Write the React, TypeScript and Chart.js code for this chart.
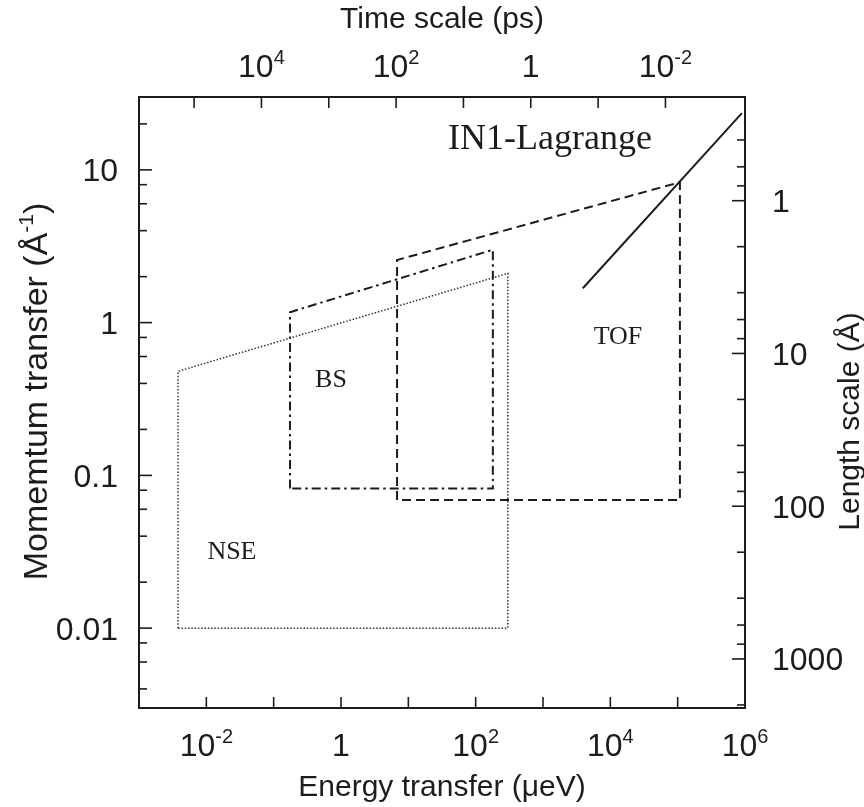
import React, { useEffect, useRef } from 'react';
import { Chart, registerables } from 'chart.js';

Chart.register(...registerables);

// ---------- constants ----------
const HBAR = 658.2; // µeV·ps  (t = ħ / E)
const TWO_PI = 2 * Math.PI; // Å (L = 2π / Q)

// ---------- axis ranges ----------
const energyMin = 1e-3;
const energyMax = 1e6;
const momentumMin = 0.003;
const momentumMax = 30;

// ---------- data (energy in µeV, momentum in Å^-1) ----------
const nseEnergy = [0.0038, 0.0038, 300, 300, 0.0038];
const nseQ = [0.01, 0.48, 2.1, 0.01, 0.01];

const bsEnergy = [0.175, 0.175, 180, 180, 0.175];
const bsQ = [0.082, 1.17, 3.0, 0.082, 0.082];

const tofEnergy = [6.8, 6.8, 1.08e5, 1.08e5, 6.8];
const tofQ = [0.069, 2.57, 8.3, 0.069, 0.069];

const in1Energy = [3900, 9.0e5];
const in1Q = [1.68, 23.5];

// ---------- ticks ----------
const energyTicks = [1e-3, 1e-2, 1e-1, 1, 1e1, 1e2, 1e3, 1e4, 1e5, 1e6];
const energyTickLabels = ['', '10^{-2}', '', '1', '', '10^{2}', '', '10^{4}', '', '10^{6}'];

const timeTicks = [1e5, 1e4, 1e3, 1e2, 1e1, 1, 1e-1, 1e-2];
const timeTickLabels = ['', '10^{4}', '', '10^{2}', '', '1', '', '10^{-2}'];

const momentumDecades = [0.001, 0.01, 0.1, 1, 10];
const momentumLabelTicks = [0.01, 0.1, 1, 10];
const momentumTickLabels = ['0.01', '0.1', '1', '10'];

const lengthDecades = [0.1, 1, 10, 100, 1000];
const lengthLabelTicks = [1, 10, 100, 1000];
const lengthTickLabels = ['1', '10', '100', '1000'];

const minorMultipliers = [2, 4, 6, 8];

// ---------- in-plot labels ----------
const annotationTexts = ['IN1-Lagrange', 'TOF', 'BS', 'NSE'];
const annotationEnergy = [1270, 1.3e4, 0.71, 0.024];
const annotationQ = [15.7, 0.805, 0.42, 0.0315];
const annotationSizes = [36, 26, 26, 26];

// ---------- titles ----------
const xTitle = 'Energy transfer (μeV)';
const x2Title = 'Time scale (ps)';
const yTitle = 'Momemtum transfer (Å^{-1})';
const y2Title = 'Length scale (Å)';

const SANS = '"Liberation Sans", Arial, Helvetica, sans-serif';
const SERIF = '"Liberation Serif", "Times New Roman", serif';
const INK = '#1c1c1c';
const TICK_SIZE = 32;
const TITLE_SIZE = 30;

type Part = { t: string; sup: boolean };
function parseRich(s: string): Part[] {
  const parts: Part[] = [];
  const re = /\^\{([^}]*)\}/g;
  let last = 0;
  let m: RegExpExecArray | null;
  while ((m = re.exec(s))) {
    if (m.index > last) parts.push({ t: s.slice(last, m.index), sup: false });
    parts.push({ t: m[1], sup: true });
    last = m.index + m[0].length;
  }
  if (last < s.length) parts.push({ t: s.slice(last), sup: false });
  return parts;
}

// draws rich text; (x, y) is the anchor, y is the alphabetic baseline
function drawRich(
  ctx: CanvasRenderingContext2D,
  s: string,
  x: number,
  y: number,
  align: 'left' | 'center' | 'right',
  size: number
) {
  const supSize = Math.round(size * 0.62);
  const raise = Math.round(size * 0.4);
  const parts = parseRich(s);
  const widths = parts.map((p) => {
    ctx.font = `${p.sup ? supSize : size}px ${SANS}`;
    return ctx.measureText(p.t).width;
  });
  const total = widths.reduce((a, b) => a + b, 0);
  let cx = align === 'left' ? x : align === 'right' ? x - total : x - total / 2;
  ctx.textAlign = 'left';
  ctx.textBaseline = 'alphabetic';
  parts.forEach((p, i) => {
    ctx.font = `${p.sup ? supSize : size}px ${SANS}`;
    ctx.fillText(p.t, cx, p.sup ? y - raise : y);
    cx += widths[i];
  });
}

const overlayPlugin = {
  id: 'overlay',
  afterDraw(chart: any) {
    const { ctx, chartArea: ca, scales } = chart;
    const sx = scales.x;
    const sx2 = scales.x2;
    const sy = scales.y;
    const sy2 = scales.y2;
    ctx.save();
    ctx.strokeStyle = INK;
    ctx.fillStyle = INK;
    ctx.lineWidth = 1.6;
    const seg = (x1: number, y1: number, x2: number, y2: number) => {
      ctx.beginPath();
      ctx.moveTo(x1, y1);
      ctx.lineTo(x2, y2);
      ctx.stroke();
    };
    // bottom ticks (inward)
    energyTicks.forEach((v) => {
      const p = sx.getPixelForValue(v);
      if (p > ca.left + 1 && p < ca.right - 1) seg(p, ca.bottom, p, ca.bottom - 11);
    });
    // top ticks
    timeTicks.forEach((v) => {
      const p = sx2.getPixelForValue(v);
      if (p > ca.left + 1 && p < ca.right - 1) seg(p, ca.top, p, ca.top + 11);
    });
    // left ticks
    momentumDecades.forEach((d) => {
      [1, ...minorMultipliers].forEach((m) => {
        const v = d * m;
        if (v <= momentumMin || v >= momentumMax) return;
        const p = sy.getPixelForValue(v);
        seg(ca.left, p, ca.left + (m === 1 ? 13 : 8), p);
      });
    });
    // right ticks
    lengthDecades.forEach((d) => {
      [1, ...minorMultipliers].forEach((m) => {
        const v = d * m;
        if (v <= sy2.min || v >= sy2.max) return;
        const p = sy2.getPixelForValue(v);
        seg(ca.right, p, ca.right - (m === 1 ? 13 : 8), p);
      });
    });

    // tick labels
    energyTicks.forEach((v, i) => {
      if (!energyTickLabels[i]) return;
      drawRich(ctx, energyTickLabels[i], sx.getPixelForValue(v), ca.bottom + 48, 'center', TICK_SIZE);
    });
    timeTicks.forEach((v, i) => {
      if (!timeTickLabels[i]) return;
      drawRich(ctx, timeTickLabels[i], sx2.getPixelForValue(v), ca.top - 20, 'center', TICK_SIZE);
    });
    momentumLabelTicks.forEach((v, i) => {
      drawRich(ctx, momentumTickLabels[i], ca.left - 21, sy.getPixelForValue(v) + 11.5, 'right', TICK_SIZE);
    });
    lengthLabelTicks.forEach((v, i) => {
      drawRich(ctx, lengthTickLabels[i], ca.right + 27, sy2.getPixelForValue(v) + 11.5, 'left', TICK_SIZE);
    });

    // vertical titles
    const midY = (ca.top + ca.bottom) / 2;
    ctx.save();
    ctx.translate(47, midY - 11);
    ctx.rotate(-Math.PI / 2);
    drawRich(ctx, yTitle, 0, 0, 'center', 34);
    ctx.restore();
    ctx.save();
    ctx.translate(859, midY + 19);
    ctx.rotate(-Math.PI / 2);
    drawRich(ctx, y2Title, 0, 0, 'center', TITLE_SIZE);
    ctx.restore();

    // in-plot annotations
    annotationTexts.forEach((t, i) => {
      ctx.font = `${annotationSizes[i]}px ${SERIF}`;
      ctx.textAlign = 'center';
      ctx.textBaseline = 'middle';
      ctx.fillText(t, sx.getPixelForValue(annotationEnergy[i]), sy.getPixelForValue(annotationQ[i]));
    });
    ctx.restore();
  },
};

function pts(xs: number[], ys: number[]) {
  return xs.map((x, i) => ({ x, y: ys[i] }));
}

export default function App() {
  const ref = useRef<HTMLCanvasElement | null>(null);
  useEffect(() => {
    if (!ref.current) return;
    const common = { showLine: true, pointRadius: 0, fill: false, tension: 0, xAxisID: 'x', yAxisID: 'y', borderColor: INK };
    const chart = new Chart(ref.current, {
      type: 'scatter',
      data: {
        datasets: [
          { ...common, label: 'NSE', data: pts(nseEnergy, nseQ), borderWidth: 1.5, borderDash: [1.5, 1.8], borderColor: '#333' },
          { ...common, label: 'BS', data: pts(bsEnergy, bsQ), borderWidth: 2, borderDash: [9, 4, 2.5, 4] },
          { ...common, label: 'TOF', data: pts(tofEnergy, tofQ), borderWidth: 2, borderDash: [9, 5] },
          { ...common, label: 'IN1-Lagrange', data: pts(in1Energy, in1Q), borderWidth: 2 },
        ],
      } as any,
      options: {
        responsive: false,
        animation: false,
        layout: { padding: 0 },
        plugins: { legend: { display: false }, tooltip: { enabled: false } },
        scales: {
          x: {
            type: 'logarithmic',
            position: 'bottom',
            min: energyMin,
            max: energyMax,
            grid: { display: false },
            border: { display: true, color: INK, width: 2 },
            ticks: { display: false },
            title: { display: true, text: xTitle, color: INK, font: { family: SANS, size: TITLE_SIZE }, padding: { top: 0, bottom: 1 } },
            afterFit: (s: any) => { s.height = 99; },
          },
          x2: {
            type: 'logarithmic',
            position: 'top',
            reverse: true,
            min: HBAR / energyMax,
            max: HBAR / energyMin,
            grid: { display: false },
            border: { display: true, color: INK, width: 2 },
            ticks: { display: false },
            title: { display: true, text: x2Title, color: INK, font: { family: SANS, size: TITLE_SIZE }, padding: { top: 2, bottom: 0 } },
            afterFit: (s: any) => { s.height = 97; },
          },
          y: {
            type: 'logarithmic',
            position: 'left',
            min: momentumMin,
            max: momentumMax,
            grid: { display: false },
            border: { display: true, color: INK, width: 2 },
            ticks: { display: false },
            afterFit: (s: any) => { s.width = 139; },
          },
          y2: {
            type: 'logarithmic',
            position: 'right',
            reverse: true,
            min: TWO_PI / momentumMax,
            max: TWO_PI / momentumMin,
            grid: { display: false },
            border: { display: true, color: INK, width: 2 },
            ticks: { display: false },
            afterFit: (s: any) => { s.width = 119; },
          },
        },
      } as any,
      plugins: [overlayPlugin],
    });
    return () => chart.destroy();
  }, []);
  return (
    <div style={{ position: 'absolute', left: 0, top: 0, width: 864, height: 807, background: '#fff' }}>
      <canvas ref={ref} width={864} height={807} style={{ display: 'block' }} />
    </div>
  );
}
